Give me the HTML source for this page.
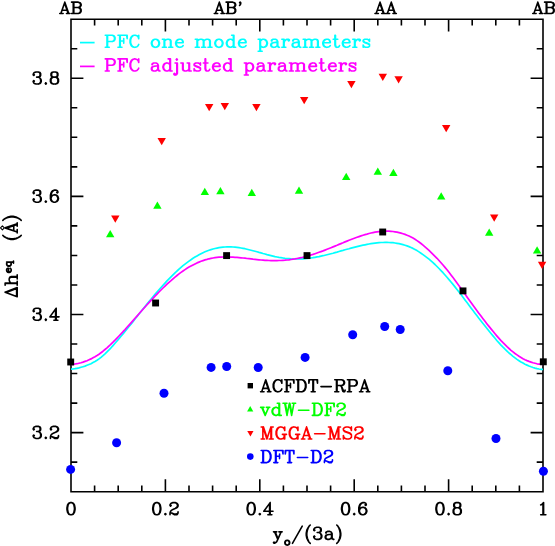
<!DOCTYPE html>
<html><head><meta charset="utf-8"><title>PFC stacking height</title>
<style>html,body{margin:0;padding:0;background:#fff;font-family:"Liberation Sans",sans-serif;}svg{display:block}</style>
</head><body>
<svg width="555" height="546" viewBox="0 0 555 546" role="img" aria-label="Equilibrium interlayer height versus stacking displacement">
<desc>Top axis: AB, AB prime, AA, AB. Legend: PFC one mode parameters; PFC adjusted parameters; ACFDT-RPA; vdW-DF2; MGGA-MS2; DFT-D2. Y axis: Delta h eq (Angstrom) 3.2 3.4 3.6 3.8. X axis: y_o/(3a) 0 0.2 0.4 0.6 0.8 1.</desc>
<path d="M71.00 19.20 H543.00 V491.70 H71.00 Z M71.00 491.70 v-12.40 M71.00 19.20 v12.40 M94.60 491.70 v-6.30 M94.60 19.20 v6.30 M118.20 491.70 v-6.30 M118.20 19.20 v6.30 M141.80 491.70 v-6.30 M141.80 19.20 v6.30 M165.40 491.70 v-12.40 M165.40 19.20 v12.40 M189.00 491.70 v-6.30 M189.00 19.20 v6.30 M212.60 491.70 v-6.30 M212.60 19.20 v6.30 M236.20 491.70 v-6.30 M236.20 19.20 v6.30 M259.80 491.70 v-12.40 M259.80 19.20 v12.40 M283.40 491.70 v-6.30 M283.40 19.20 v6.30 M307.00 491.70 v-6.30 M307.00 19.20 v6.30 M330.60 491.70 v-6.30 M330.60 19.20 v6.30 M354.20 491.70 v-12.40 M354.20 19.20 v12.40 M377.80 491.70 v-6.30 M377.80 19.20 v6.30 M401.40 491.70 v-6.30 M401.40 19.20 v6.30 M425.00 491.70 v-6.30 M425.00 19.20 v6.30 M448.60 491.70 v-12.40 M448.60 19.20 v12.40 M472.20 491.70 v-6.30 M472.20 19.20 v6.30 M495.80 491.70 v-6.30 M495.80 19.20 v6.30 M519.40 491.70 v-6.30 M519.40 19.20 v6.30 M543.00 491.70 v-12.40 M543.00 19.20 v12.40 M71.00 491.70 h6.30 M543.00 491.70 h-6.30 M71.00 462.17 h6.30 M543.00 462.17 h-6.30 M71.00 432.64 h12.40 M543.00 432.64 h-12.40 M71.00 403.11 h6.30 M543.00 403.11 h-6.30 M71.00 373.57 h6.30 M543.00 373.57 h-6.30 M71.00 344.04 h6.30 M543.00 344.04 h-6.30 M71.00 314.51 h12.40 M543.00 314.51 h-12.40 M71.00 284.98 h6.30 M543.00 284.98 h-6.30 M71.00 255.45 h6.30 M543.00 255.45 h-6.30 M71.00 225.92 h6.30 M543.00 225.92 h-6.30 M71.00 196.39 h12.40 M543.00 196.39 h-12.40 M71.00 166.86 h6.30 M543.00 166.86 h-6.30 M71.00 137.32 h6.30 M543.00 137.32 h-6.30 M71.00 107.79 h6.30 M543.00 107.79 h-6.30 M71.00 78.26 h12.40 M543.00 78.26 h-12.40 M71.00 48.73 h6.30 M543.00 48.73 h-6.30 M71.00 19.20 h6.30 M543.00 19.20 h-6.30" fill="none" stroke="#000" stroke-width="1.60" stroke-linecap="butt" stroke-linejoin="miter"/>
<polyline points="71.0,369.2 73.0,369.0 75.0,368.7 77.0,368.3 79.0,367.9 81.0,367.3 83.0,366.7 85.0,366.1 87.0,365.3 89.0,364.5 91.0,363.7 93.0,362.6 95.0,361.5 97.0,360.3 99.0,358.9 101.0,357.4 103.0,355.7 105.0,353.9 107.0,351.9 109.0,349.9 111.0,347.8 113.0,345.6 115.0,343.3 117.0,341.0 119.0,338.7 121.0,336.3 123.0,333.9 125.0,331.5 127.0,329.0 129.0,326.5 131.0,324.1 133.0,321.6 135.0,319.0 137.0,316.5 139.0,314.0 141.0,311.5 143.0,309.0 145.0,306.6 147.0,304.1 149.0,301.6 151.0,299.2 153.0,296.8 155.0,294.4 157.0,292.1 159.0,289.8 161.0,287.5 163.0,285.3 165.0,283.1 167.0,280.9 169.0,278.8 171.0,276.8 173.0,274.8 175.0,272.9 177.0,271.0 179.0,269.2 181.0,267.4 183.0,265.7 185.0,264.1 187.0,262.6 189.0,261.1 191.0,259.7 193.0,258.3 195.0,257.1 197.0,255.9 199.0,254.8 201.0,253.7 203.0,252.7 205.0,251.8 207.0,251.0 209.0,250.3 211.0,249.6 213.0,249.0 215.0,248.5 217.0,248.1 219.0,247.7 221.0,247.4 223.0,247.2 225.0,247.0 227.0,246.9 229.0,246.9 231.0,246.9 233.0,247.0 235.0,247.2 237.0,247.4 239.0,247.7 241.0,248.0 243.0,248.3 245.0,248.7 247.0,249.2 249.0,249.7 251.0,250.2 253.0,250.7 255.0,251.2 257.0,251.8 259.0,252.4 261.0,252.9 263.0,253.5 265.0,254.0 267.0,254.6 269.0,255.1 271.0,255.6 273.0,256.1 275.0,256.6 277.0,257.0 279.0,257.4 281.0,257.7 283.0,258.0 285.0,258.3 287.0,258.5 289.0,258.7 291.0,258.9 293.0,259.0 295.0,259.0 297.0,259.0 299.0,259.0 301.0,258.9 303.0,258.8 305.0,258.7 307.0,258.5 309.0,258.2 311.0,258.0 313.0,257.7 315.0,257.3 317.0,256.9 319.0,256.6 321.0,256.1 323.0,255.7 325.0,255.2 327.0,254.7 329.0,254.2 331.0,253.7 333.0,253.2 335.0,252.6 337.0,252.1 339.0,251.5 341.0,250.9 343.0,250.4 345.0,249.8 347.0,249.2 349.0,248.7 351.0,248.1 353.0,247.6 355.0,247.1 357.0,246.6 359.0,246.1 361.0,245.6 363.0,245.2 365.0,244.8 367.0,244.4 369.0,244.0 371.0,243.7 373.0,243.4 375.0,243.1 377.0,242.9 379.0,242.7 381.0,242.5 383.0,242.5 385.0,242.4 387.0,242.4 389.0,242.5 391.0,242.6 393.0,242.7 395.0,243.0 397.0,243.3 399.0,243.6 401.0,244.1 403.0,244.6 405.0,245.2 407.0,245.9 409.0,246.6 411.0,247.5 413.0,248.4 415.0,249.5 417.0,250.6 419.0,251.9 421.0,253.2 423.0,254.6 425.0,256.1 427.0,257.6 429.0,259.2 431.0,260.9 433.0,262.7 435.0,264.5 437.0,266.5 439.0,268.5 441.0,270.6 443.0,272.7 445.0,275.0 447.0,277.2 449.0,279.6 451.0,282.0 453.0,284.4 455.0,286.9 457.0,289.5 459.0,292.0 461.0,294.6 463.0,297.2 465.0,299.9 467.0,302.5 469.0,305.2 471.0,307.9 473.0,310.5 475.0,313.2 477.0,315.8 479.0,318.4 481.0,321.0 483.0,323.5 485.0,326.0 487.0,328.5 489.0,331.0 491.0,333.5 493.0,335.9 495.0,338.3 497.0,340.7 499.0,342.9 501.0,345.1 503.0,347.2 505.0,349.2 507.0,351.1 509.0,353.0 511.0,354.7 513.0,356.4 515.0,357.9 517.0,359.4 519.0,360.7 521.0,362.0 523.0,363.1 525.0,364.2 527.0,365.1 529.0,366.0 531.0,366.8 533.0,367.5 535.0,368.1 537.0,368.6 539.0,369.0 541.0,369.3 543.0,369.4" fill="none" stroke="#00ffff" stroke-width="1.7" stroke-linejoin="round"/>
<polyline points="71.0,364.4 73.0,364.3 75.0,364.0 77.0,363.7 79.0,363.2 81.0,362.7 83.0,362.1 85.0,361.4 87.0,360.7 89.0,359.8 91.0,358.9 93.0,357.8 95.0,356.7 97.0,355.5 99.0,354.2 101.0,352.7 103.0,351.2 105.0,349.5 107.0,347.8 109.0,346.0 111.0,344.1 113.0,342.2 115.0,340.2 117.0,338.1 119.0,336.0 121.0,333.9 123.0,331.7 125.0,329.6 127.0,327.3 129.0,325.1 131.0,322.9 133.0,320.6 135.0,318.3 137.0,316.1 139.0,313.8 141.0,311.5 143.0,309.3 145.0,307.0 147.0,304.8 149.0,302.6 151.0,300.4 153.0,298.3 155.0,296.2 157.0,294.1 159.0,292.0 161.0,290.0 163.0,288.0 165.0,286.1 167.0,284.2 169.0,282.3 171.0,280.6 173.0,278.8 175.0,277.1 177.0,275.5 179.0,273.9 181.0,272.4 183.0,271.0 185.0,269.6 187.0,268.3 189.0,267.1 191.0,266.0 193.0,264.9 195.0,263.9 197.0,262.9 199.0,262.1 201.0,261.3 203.0,260.6 205.0,259.9 207.0,259.4 209.0,258.8 211.0,258.4 213.0,258.0 215.0,257.7 217.0,257.4 219.0,257.2 221.0,257.1 223.0,257.0 225.0,257.0 227.0,256.9 229.0,257.0 231.0,257.1 233.0,257.2 235.0,257.3 237.0,257.4 239.0,257.6 241.0,257.8 243.0,258.0 245.0,258.2 247.0,258.5 249.0,258.7 251.0,258.9 253.0,259.2 255.0,259.4 257.0,259.6 259.0,259.8 261.0,260.0 263.0,260.1 265.0,260.3 267.0,260.4 269.0,260.5 271.0,260.6 273.0,260.6 275.0,260.6 277.0,260.6 279.0,260.5 281.0,260.5 283.0,260.3 285.0,260.2 287.0,260.0 289.0,259.8 291.0,259.5 293.0,259.2 295.0,258.9 297.0,258.5 299.0,258.1 301.0,257.7 303.0,257.2 305.0,256.7 307.0,256.2 309.0,255.6 311.0,255.0 313.0,254.4 315.0,253.7 317.0,253.0 319.0,252.3 321.0,251.6 323.0,250.9 325.0,250.1 327.0,249.3 329.0,248.5 331.0,247.7 333.0,246.9 335.0,246.1 337.0,245.3 339.0,244.4 341.0,243.6 343.0,242.8 345.0,241.9 347.0,241.1 349.0,240.3 351.0,239.5 353.0,238.7 355.0,238.0 357.0,237.3 359.0,236.6 361.0,235.9 363.0,235.2 365.0,234.6 367.0,234.1 369.0,233.5 371.0,233.0 373.0,232.6 375.0,232.2 377.0,231.9 379.0,231.6 381.0,231.4 383.0,231.2 385.0,231.1 387.0,231.1 389.0,231.2 391.0,231.3 393.0,231.5 395.0,231.8 397.0,232.1 399.0,232.6 401.0,233.1 403.0,233.7 405.0,234.4 407.0,235.2 409.0,236.0 411.0,237.0 413.0,238.1 415.0,239.3 417.0,240.6 419.0,242.0 421.0,243.5 423.0,245.2 425.0,246.9 427.0,248.6 429.0,250.4 431.0,252.3 433.0,254.3 435.0,256.3 437.0,258.3 439.0,260.5 441.0,262.7 443.0,265.0 445.0,267.4 447.0,269.8 449.0,272.3 451.0,274.9 453.0,277.5 455.0,280.2 457.0,282.9 459.0,285.7 461.0,288.5 463.0,291.3 465.0,294.1 467.0,296.9 469.0,299.7 471.0,302.5 473.0,305.2 475.0,308.0 477.0,310.7 479.0,313.4 481.0,316.1 483.0,318.7 485.0,321.3 487.0,323.9 489.0,326.4 491.0,328.9 493.0,331.3 495.0,333.7 497.0,336.1 499.0,338.4 501.0,340.6 503.0,342.7 505.0,344.7 507.0,346.7 509.0,348.5 511.0,350.3 513.0,351.9 515.0,353.5 517.0,354.9 519.0,356.3 521.0,357.5 523.0,358.7 525.0,359.7 527.0,360.6 529.0,361.4 531.0,362.1 533.0,362.8 535.0,363.3 537.0,363.8 539.0,364.1 541.0,364.2 543.0,364.3" fill="none" stroke="#ff00ff" stroke-width="1.7" stroke-linejoin="round"/>
<rect x="67.25" y="358.55" width="6.90" height="6.90" fill="#000"/>
<rect x="152.15" y="299.55" width="6.90" height="6.90" fill="#000"/>
<rect x="223.15" y="252.15" width="6.90" height="6.90" fill="#000"/>
<rect x="303.55" y="252.15" width="6.90" height="6.90" fill="#000"/>
<rect x="379.25" y="228.55" width="6.90" height="6.90" fill="#000"/>
<rect x="459.55" y="287.45" width="6.90" height="6.90" fill="#000"/>
<rect x="539.85" y="358.35" width="6.90" height="6.90" fill="#000"/>
<polygon points="110.20,230.05 114.40,237.33 106.00,237.33" fill="#00ff00"/>
<polygon points="157.40,201.55 161.60,208.83 153.20,208.83" fill="#00ff00"/>
<polygon points="204.80,187.85 209.00,195.12 200.60,195.12" fill="#00ff00"/>
<polygon points="220.40,186.95 224.60,194.23 216.20,194.23" fill="#00ff00"/>
<polygon points="251.80,188.85 256.00,196.12 247.60,196.12" fill="#00ff00"/>
<polygon points="299.00,186.55 303.20,193.83 294.80,193.83" fill="#00ff00"/>
<polygon points="346.20,172.75 350.40,180.03 342.00,180.03" fill="#00ff00"/>
<polygon points="377.80,167.55 382.00,174.83 373.60,174.83" fill="#00ff00"/>
<polygon points="393.40,168.75 397.60,176.03 389.20,176.03" fill="#00ff00"/>
<polygon points="441.20,192.35 445.40,199.62 437.00,199.62" fill="#00ff00"/>
<polygon points="489.20,228.55 493.40,235.83 485.00,235.83" fill="#00ff00"/>
<polygon points="537.10,246.35 541.30,253.62 532.90,253.62" fill="#00ff00"/>
<polygon points="115.30,222.75 119.50,215.47 111.10,215.47" fill="#ff0000"/>
<polygon points="161.70,145.15 165.90,137.88 157.50,137.88" fill="#ff0000"/>
<polygon points="209.20,111.15 213.40,103.88 205.00,103.88" fill="#ff0000"/>
<polygon points="224.80,110.25 229.00,102.98 220.60,102.98" fill="#ff0000"/>
<polygon points="256.40,111.15 260.60,103.88 252.20,103.88" fill="#ff0000"/>
<polygon points="304.20,104.35 308.40,97.08 300.00,97.08" fill="#ff0000"/>
<polygon points="351.40,88.15 355.60,80.88 347.20,80.88" fill="#ff0000"/>
<polygon points="382.80,80.95 387.00,73.67 378.60,73.67" fill="#ff0000"/>
<polygon points="398.60,83.55 402.80,76.28 394.40,76.28" fill="#ff0000"/>
<polygon points="446.20,132.15 450.40,124.88 442.00,124.88" fill="#ff0000"/>
<polygon points="494.20,221.65 498.40,214.38 490.00,214.38" fill="#ff0000"/>
<polygon points="542.10,269.05 546.30,261.77 537.90,261.77" fill="#ff0000"/>
<circle cx="70.60" cy="469.40" r="4.50" fill="#0000ff"/>
<circle cx="116.60" cy="442.80" r="4.50" fill="#0000ff"/>
<circle cx="164.00" cy="393.20" r="4.50" fill="#0000ff"/>
<circle cx="211.10" cy="367.40" r="4.50" fill="#0000ff"/>
<circle cx="226.70" cy="366.50" r="4.50" fill="#0000ff"/>
<circle cx="258.20" cy="367.50" r="4.50" fill="#0000ff"/>
<circle cx="305.10" cy="357.40" r="4.50" fill="#0000ff"/>
<circle cx="352.70" cy="334.70" r="4.50" fill="#0000ff"/>
<circle cx="384.70" cy="326.50" r="4.50" fill="#0000ff"/>
<circle cx="400.20" cy="329.50" r="4.50" fill="#0000ff"/>
<circle cx="447.80" cy="370.70" r="4.50" fill="#0000ff"/>
<circle cx="496.00" cy="438.50" r="4.50" fill="#0000ff"/>
<circle cx="543.40" cy="471.30" r="4.50" fill="#0000ff"/>
<path d="M64.82 2.16 L60.88 13.50 M64.82 2.16 L68.75 13.50 M64.82 3.78 L68.19 13.50 M62.01 10.26 L67.07 10.26 M59.76 13.50 L63.13 13.50 M66.50 13.50 L69.88 13.50 M73.25 2.16 L73.25 13.50 M73.81 2.16 L73.81 13.50 M71.56 2.16 L78.31 2.16 L79.99 2.70 L80.55 3.24 L81.12 4.32 L81.12 5.40 L80.55 6.48 L79.99 7.02 L78.31 7.56 M78.31 2.16 L79.43 2.70 L79.99 3.24 L80.55 4.32 L80.55 5.40 L79.99 6.48 L79.43 7.02 L78.31 7.56 M73.81 7.56 L78.31 7.56 L79.99 8.10 L80.55 8.64 L81.12 9.72 L81.12 11.34 L80.55 12.42 L79.99 12.96 L78.31 13.50 L71.56 13.50 M78.31 7.56 L79.43 8.10 L79.99 8.64 L80.55 9.72 L80.55 11.34 L79.99 12.42 L79.43 12.96 L78.31 13.50" fill="none" stroke="#000" stroke-width="1.60" stroke-linecap="round" stroke-linejoin="round"/>
<path d="M219.34 2.16 L215.41 13.50 M219.34 2.16 L223.28 13.50 M219.34 3.78 L222.71 13.50 M216.53 10.26 L221.59 10.26 M214.28 13.50 L217.66 13.50 M221.03 13.50 L224.40 13.50 M227.77 2.16 L227.77 13.50 M228.33 2.16 L228.33 13.50 M226.09 2.16 L232.83 2.16 L234.52 2.70 L235.08 3.24 L235.64 4.32 L235.64 5.40 L235.08 6.48 L234.52 7.02 L232.83 7.56 M232.83 2.16 L233.95 2.70 L234.52 3.24 L235.08 4.32 L235.08 5.40 L234.52 6.48 L233.95 7.02 L232.83 7.56 M228.33 7.56 L232.83 7.56 L234.52 8.10 L235.08 8.64 L235.64 9.72 L235.64 11.34 L235.08 12.42 L234.52 12.96 L232.83 13.50 L226.09 13.50 M232.83 7.56 L233.95 8.10 L234.52 8.64 L235.08 9.72 L235.08 11.34 L234.52 12.42 L233.95 12.96 L232.83 13.50 M240.14 3.24 L239.57 2.70 L240.14 2.16 L240.70 2.70 L240.70 3.78 L240.14 4.86 L239.57 5.40" fill="none" stroke="#000" stroke-width="1.60" stroke-linecap="round" stroke-linejoin="round"/>
<path d="M380.05 2.16 L376.11 13.50 M380.05 2.16 L383.98 13.50 M380.05 3.78 L383.42 13.50 M377.24 10.26 L382.29 10.26 M374.99 13.50 L378.36 13.50 M381.73 13.50 L385.10 13.50 M391.29 2.16 L387.35 13.50 M391.29 2.16 L395.22 13.50 M391.29 3.78 L394.66 13.50 M388.48 10.26 L393.53 10.26 M386.23 13.50 L389.60 13.50 M392.97 13.50 L396.34 13.50" fill="none" stroke="#000" stroke-width="1.60" stroke-linecap="round" stroke-linejoin="round"/>
<path d="M537.82 2.16 L533.88 13.50 M537.82 2.16 L541.75 13.50 M537.82 3.78 L541.19 13.50 M535.01 10.26 L540.07 10.26 M532.76 13.50 L536.13 13.50 M539.50 13.50 L542.88 13.50 M546.25 2.16 L546.25 13.50 M546.81 2.16 L546.81 13.50 M544.56 2.16 L551.31 2.16 L552.99 2.70 L553.55 3.24 L554.12 4.32 L554.12 5.40 L553.55 6.48 L552.99 7.02 L551.31 7.56 M551.31 2.16 L552.43 2.70 L552.99 3.24 L553.55 4.32 L553.55 5.40 L552.99 6.48 L552.43 7.02 L551.31 7.56 M546.81 7.56 L551.31 7.56 L552.99 8.10 L553.55 8.64 L554.12 9.72 L554.12 11.34 L553.55 12.42 L552.99 12.96 L551.31 13.50 L544.56 13.50 M551.31 7.56 L552.43 8.10 L552.99 8.64 L553.55 9.72 L553.55 11.34 L552.99 12.42 L552.43 12.96 L551.31 13.50" fill="none" stroke="#000" stroke-width="1.60" stroke-linecap="round" stroke-linejoin="round"/>
<path d="M80 42.6 H94.6" stroke="#00ffff" stroke-width="1.7" fill="none"/>
<path d="M80 66.4 H94.6" stroke="#ff00ff" stroke-width="1.7" fill="none"/>
<path d="M106.98 35.22 L106.98 47.30 M107.56 35.22 L107.56 47.30 M105.25 35.22 L112.18 35.22 L113.91 35.80 L114.49 36.38 L115.06 37.52 L115.06 39.25 L114.49 40.40 L113.91 40.97 L112.18 41.55 L107.56 41.55 M112.18 35.22 L113.33 35.80 L113.91 36.38 L114.49 37.52 L114.49 39.25 L113.91 40.40 L113.33 40.97 L112.18 41.55 M105.25 47.30 L109.29 47.30 M119.68 35.22 L119.68 47.30 M120.26 35.22 L120.26 47.30 M123.72 38.67 L123.72 43.27 M117.95 35.22 L127.18 35.22 L127.18 38.67 L126.60 35.22 M120.26 40.97 L123.72 40.97 M117.95 47.30 L121.99 47.30 M138.14 36.95 L138.72 38.67 L138.72 35.22 L138.14 36.95 L136.99 35.80 L135.26 35.22 L134.10 35.22 L132.37 35.80 L131.22 36.95 L130.64 38.10 L130.06 39.82 L130.06 42.70 L130.64 44.42 L131.22 45.57 L132.37 46.72 L134.10 47.30 L135.26 47.30 L136.99 46.72 L138.14 45.57 L138.72 44.42 M134.10 35.22 L132.95 35.80 L131.80 36.95 L131.22 38.10 L130.64 39.82 L130.64 42.70 L131.22 44.42 L131.80 45.57 L132.95 46.72 L134.10 47.30 M154.88 39.25 L153.14 39.82 L151.99 40.97 L151.41 42.70 L151.41 43.85 L151.99 45.57 L153.14 46.72 L154.88 47.30 L156.03 47.30 L157.76 46.72 L158.91 45.57 L159.49 43.85 L159.49 42.70 L158.91 40.97 L157.76 39.82 L156.03 39.25 L154.88 39.25 M154.88 39.25 L153.72 39.82 L152.57 40.97 L151.99 42.70 L151.99 43.85 L152.57 45.57 L153.72 46.72 L154.88 47.30 M156.03 47.30 L157.18 46.72 L158.34 45.57 L158.91 43.85 L158.91 42.70 L158.34 40.97 L157.18 39.82 L156.03 39.25 M164.11 39.25 L164.11 47.30 M164.69 39.25 L164.69 47.30 M164.69 40.97 L165.84 39.82 L167.57 39.25 L168.72 39.25 L170.45 39.82 L171.03 40.97 L171.03 47.30 M168.72 39.25 L169.88 39.82 L170.45 40.97 L170.45 47.30 M162.38 39.25 L164.69 39.25 M162.38 47.30 L166.42 47.30 M168.72 47.30 L172.76 47.30 M176.22 42.70 L183.15 42.70 L183.15 41.55 L182.57 40.40 L182.00 39.82 L180.84 39.25 L179.11 39.25 L177.38 39.82 L176.22 40.97 L175.65 42.70 L175.65 43.85 L176.22 45.57 L177.38 46.72 L179.11 47.30 L180.26 47.30 L182.00 46.72 L183.15 45.57 M182.57 42.70 L182.57 40.97 L182.00 39.82 M179.11 39.25 L177.96 39.82 L176.80 40.97 L176.22 42.70 L176.22 43.85 L176.80 45.57 L177.96 46.72 L179.11 47.30 M197.00 39.25 L197.00 47.30 M197.57 39.25 L197.57 47.30 M197.57 40.97 L198.73 39.82 L200.46 39.25 L201.61 39.25 L203.34 39.82 L203.92 40.97 L203.92 47.30 M201.61 39.25 L202.77 39.82 L203.34 40.97 L203.34 47.30 M203.92 40.97 L205.07 39.82 L206.81 39.25 L207.96 39.25 L209.69 39.82 L210.27 40.97 L210.27 47.30 M207.96 39.25 L209.11 39.82 L209.69 40.97 L209.69 47.30 M195.27 39.25 L197.57 39.25 M195.27 47.30 L199.31 47.30 M201.61 47.30 L205.65 47.30 M207.96 47.30 L212.00 47.30 M218.35 39.25 L216.61 39.82 L215.46 40.97 L214.88 42.70 L214.88 43.85 L215.46 45.57 L216.61 46.72 L218.35 47.30 L219.50 47.30 L221.23 46.72 L222.38 45.57 L222.96 43.85 L222.96 42.70 L222.38 40.97 L221.23 39.82 L219.50 39.25 L218.35 39.25 M218.35 39.25 L217.19 39.82 L216.04 40.97 L215.46 42.70 L215.46 43.85 L216.04 45.57 L217.19 46.72 L218.35 47.30 M219.50 47.30 L220.65 46.72 L221.81 45.57 L222.38 43.85 L222.38 42.70 L221.81 40.97 L220.65 39.82 L219.50 39.25 M233.35 35.22 L233.35 47.30 M233.92 35.22 L233.92 47.30 M233.35 40.97 L232.19 39.82 L231.04 39.25 L229.89 39.25 L228.15 39.82 L227.00 40.97 L226.42 42.70 L226.42 43.85 L227.00 45.57 L228.15 46.72 L229.89 47.30 L231.04 47.30 L232.19 46.72 L233.35 45.57 M229.89 39.25 L228.73 39.82 L227.58 40.97 L227.00 42.70 L227.00 43.85 L227.58 45.57 L228.73 46.72 L229.89 47.30 M231.62 35.22 L233.92 35.22 M233.35 47.30 L235.66 47.30 M239.12 42.70 L246.04 42.70 L246.04 41.55 L245.46 40.40 L244.89 39.82 L243.73 39.25 L242.00 39.25 L240.27 39.82 L239.12 40.97 L238.54 42.70 L238.54 43.85 L239.12 45.57 L240.27 46.72 L242.00 47.30 L243.16 47.30 L244.89 46.72 L246.04 45.57 M245.46 42.70 L245.46 40.97 L244.89 39.82 M242.00 39.25 L240.85 39.82 L239.69 40.97 L239.12 42.70 L239.12 43.85 L239.69 45.57 L240.85 46.72 L242.00 47.30 M259.89 39.25 L259.89 51.32 M260.47 39.25 L260.47 51.32 M260.47 40.97 L261.62 39.82 L262.77 39.25 L263.93 39.25 L265.66 39.82 L266.81 40.97 L267.39 42.70 L267.39 43.85 L266.81 45.57 L265.66 46.72 L263.93 47.30 L262.77 47.30 L261.62 46.72 L260.47 45.57 M263.93 39.25 L265.08 39.82 L266.24 40.97 L266.81 42.70 L266.81 43.85 L266.24 45.57 L265.08 46.72 L263.93 47.30 M258.16 39.25 L260.47 39.25 M258.16 51.32 L262.20 51.32 M272.01 40.40 L272.01 40.97 L271.43 40.97 L271.43 40.40 L272.01 39.82 L273.16 39.25 L275.47 39.25 L276.62 39.82 L277.20 40.40 L277.78 41.55 L277.78 45.57 L278.35 46.72 L278.93 47.30 M277.20 40.40 L277.20 45.57 L277.78 46.72 L278.93 47.30 L279.51 47.30 M277.20 41.55 L276.62 42.12 L273.16 42.70 L271.43 43.27 L270.85 44.42 L270.85 45.57 L271.43 46.72 L273.16 47.30 L274.89 47.30 L276.05 46.72 L277.20 45.57 M273.16 42.70 L272.01 43.27 L271.43 44.42 L271.43 45.57 L272.01 46.72 L273.16 47.30 M283.55 39.25 L283.55 47.30 M284.12 39.25 L284.12 47.30 M284.12 42.70 L284.70 40.97 L285.86 39.82 L287.01 39.25 L288.74 39.25 L289.32 39.82 L289.32 40.40 L288.74 40.97 L288.16 40.40 L288.74 39.82 M281.82 39.25 L284.12 39.25 M281.82 47.30 L285.86 47.30 M293.36 40.40 L293.36 40.97 L292.78 40.97 L292.78 40.40 L293.36 39.82 L294.51 39.25 L296.82 39.25 L297.97 39.82 L298.55 40.40 L299.13 41.55 L299.13 45.57 L299.70 46.72 L300.28 47.30 M298.55 40.40 L298.55 45.57 L299.13 46.72 L300.28 47.30 L300.86 47.30 M298.55 41.55 L297.97 42.12 L294.51 42.70 L292.78 43.27 L292.20 44.42 L292.20 45.57 L292.78 46.72 L294.51 47.30 L296.24 47.30 L297.39 46.72 L298.55 45.57 M294.51 42.70 L293.36 43.27 L292.78 44.42 L292.78 45.57 L293.36 46.72 L294.51 47.30 M304.90 39.25 L304.90 47.30 M305.47 39.25 L305.47 47.30 M305.47 40.97 L306.63 39.82 L308.36 39.25 L309.51 39.25 L311.24 39.82 L311.82 40.97 L311.82 47.30 M309.51 39.25 L310.67 39.82 L311.24 40.97 L311.24 47.30 M311.82 40.97 L312.97 39.82 L314.70 39.25 L315.86 39.25 L317.59 39.82 L318.17 40.97 L318.17 47.30 M315.86 39.25 L317.01 39.82 L317.59 40.97 L317.59 47.30 M303.16 39.25 L305.47 39.25 M303.16 47.30 L307.20 47.30 M309.51 47.30 L313.55 47.30 M315.86 47.30 L319.90 47.30 M323.36 42.70 L330.28 42.70 L330.28 41.55 L329.71 40.40 L329.13 39.82 L327.98 39.25 L326.25 39.25 L324.51 39.82 L323.36 40.97 L322.78 42.70 L322.78 43.85 L323.36 45.57 L324.51 46.72 L326.25 47.30 L327.40 47.30 L329.13 46.72 L330.28 45.57 M329.71 42.70 L329.71 40.97 L329.13 39.82 M326.25 39.25 L325.09 39.82 L323.94 40.97 L323.36 42.70 L323.36 43.85 L323.94 45.57 L325.09 46.72 L326.25 47.30 M334.90 35.22 L334.90 45.00 L335.48 46.72 L336.63 47.30 L337.78 47.30 L338.94 46.72 L339.52 45.57 M335.48 35.22 L335.48 45.00 L336.05 46.72 L336.63 47.30 M333.17 39.25 L337.78 39.25 M342.98 42.70 L349.90 42.70 L349.90 41.55 L349.32 40.40 L348.75 39.82 L347.59 39.25 L345.86 39.25 L344.13 39.82 L342.98 40.97 L342.40 42.70 L342.40 43.85 L342.98 45.57 L344.13 46.72 L345.86 47.30 L347.02 47.30 L348.75 46.72 L349.90 45.57 M349.32 42.70 L349.32 40.97 L348.75 39.82 M345.86 39.25 L344.71 39.82 L343.55 40.97 L342.98 42.70 L342.98 43.85 L343.55 45.57 L344.71 46.72 L345.86 47.30 M354.52 39.25 L354.52 47.30 M355.09 39.25 L355.09 47.30 M355.09 42.70 L355.67 40.97 L356.83 39.82 L357.98 39.25 L359.71 39.25 L360.29 39.82 L360.29 40.40 L359.71 40.97 L359.13 40.40 L359.71 39.82 M352.79 39.25 L355.09 39.25 M352.79 47.30 L356.83 47.30 M368.94 40.40 L369.52 39.25 L369.52 41.55 L368.94 40.40 L368.37 39.82 L367.21 39.25 L364.90 39.25 L363.75 39.82 L363.17 40.40 L363.17 41.55 L363.75 42.12 L364.90 42.70 L367.79 43.85 L368.94 44.42 L369.52 45.00 M363.17 40.97 L363.75 41.55 L364.90 42.12 L367.79 43.27 L368.94 43.85 L369.52 44.42 L369.52 46.15 L368.94 46.72 L367.79 47.30 L365.48 47.30 L364.33 46.72 L363.75 46.15 L363.17 45.00 L363.17 47.30 L363.75 46.15" fill="none" stroke="#00ffff" stroke-width="1.60" stroke-linecap="round" stroke-linejoin="round"/>
<path d="M106.98 58.92 L106.98 71.00 M107.56 58.92 L107.56 71.00 M105.25 58.92 L112.18 58.92 L113.91 59.50 L114.49 60.08 L115.06 61.23 L115.06 62.95 L114.49 64.10 L113.91 64.67 L112.18 65.25 L107.56 65.25 M112.18 58.92 L113.33 59.50 L113.91 60.08 L114.49 61.23 L114.49 62.95 L113.91 64.10 L113.33 64.67 L112.18 65.25 M105.25 71.00 L109.29 71.00 M119.68 58.92 L119.68 71.00 M120.26 58.92 L120.26 71.00 M123.72 62.38 L123.72 66.97 M117.95 58.92 L127.18 58.92 L127.18 62.38 L126.60 58.92 M120.26 64.67 L123.72 64.67 M117.95 71.00 L121.99 71.00 M138.14 60.65 L138.72 62.38 L138.72 58.92 L138.14 60.65 L136.99 59.50 L135.26 58.92 L134.10 58.92 L132.37 59.50 L131.22 60.65 L130.64 61.80 L130.06 63.52 L130.06 66.40 L130.64 68.12 L131.22 69.28 L132.37 70.42 L134.10 71.00 L135.26 71.00 L136.99 70.42 L138.14 69.28 L138.72 68.12 M134.10 58.92 L132.95 59.50 L131.80 60.65 L131.22 61.80 L130.64 63.52 L130.64 66.40 L131.22 68.12 L131.80 69.28 L132.95 70.42 L134.10 71.00 M152.57 64.10 L152.57 64.67 L151.99 64.67 L151.99 64.10 L152.57 63.52 L153.72 62.95 L156.03 62.95 L157.18 63.52 L157.76 64.10 L158.34 65.25 L158.34 69.28 L158.91 70.42 L159.49 71.00 M157.76 64.10 L157.76 69.28 L158.34 70.42 L159.49 71.00 L160.07 71.00 M157.76 65.25 L157.18 65.83 L153.72 66.40 L151.99 66.97 L151.41 68.12 L151.41 69.28 L151.99 70.42 L153.72 71.00 L155.45 71.00 L156.61 70.42 L157.76 69.28 M153.72 66.40 L152.57 66.97 L151.99 68.12 L151.99 69.28 L152.57 70.42 L153.72 71.00 M169.88 58.92 L169.88 71.00 M170.45 58.92 L170.45 71.00 M169.88 64.67 L168.72 63.52 L167.57 62.95 L166.42 62.95 L164.69 63.52 L163.53 64.67 L162.95 66.40 L162.95 67.55 L163.53 69.28 L164.69 70.42 L166.42 71.00 L167.57 71.00 L168.72 70.42 L169.88 69.28 M166.42 62.95 L165.26 63.52 L164.11 64.67 L163.53 66.40 L163.53 67.55 L164.11 69.28 L165.26 70.42 L166.42 71.00 M168.15 58.92 L170.45 58.92 M169.88 71.00 L172.19 71.00 M176.80 58.92 L176.22 59.50 L176.80 60.08 L177.38 59.50 L176.80 58.92 M177.38 62.95 L177.38 73.30 L176.80 74.45 L175.65 75.03 L174.49 75.03 L173.92 74.45 L173.92 73.88 L174.49 73.30 L175.07 73.88 L174.49 74.45 M176.80 62.95 L176.80 73.30 L176.22 74.45 L175.65 75.03 M175.07 62.95 L177.38 62.95 M182.57 62.95 L182.57 69.28 L183.15 70.42 L184.88 71.00 L186.03 71.00 L187.76 70.42 L188.92 69.28 M183.15 62.95 L183.15 69.28 L183.73 70.42 L184.88 71.00 M188.92 62.95 L188.92 71.00 M189.50 62.95 L189.50 71.00 M180.84 62.95 L183.15 62.95 M187.19 62.95 L189.50 62.95 M188.92 71.00 L191.23 71.00 M199.88 64.10 L200.46 62.95 L200.46 65.25 L199.88 64.10 L199.31 63.52 L198.15 62.95 L195.84 62.95 L194.69 63.52 L194.11 64.10 L194.11 65.25 L194.69 65.83 L195.84 66.40 L198.73 67.55 L199.88 68.12 L200.46 68.70 M194.11 64.67 L194.69 65.25 L195.84 65.83 L198.73 66.97 L199.88 67.55 L200.46 68.12 L200.46 69.85 L199.88 70.42 L198.73 71.00 L196.42 71.00 L195.27 70.42 L194.69 69.85 L194.11 68.70 L194.11 71.00 L194.69 69.85 M205.07 58.92 L205.07 68.70 L205.65 70.42 L206.81 71.00 L207.96 71.00 L209.11 70.42 L209.69 69.28 M205.65 58.92 L205.65 68.70 L206.23 70.42 L206.81 71.00 M203.34 62.95 L207.96 62.95 M213.15 66.40 L220.08 66.40 L220.08 65.25 L219.50 64.10 L218.92 63.52 L217.77 62.95 L216.04 62.95 L214.31 63.52 L213.15 64.67 L212.58 66.40 L212.58 67.55 L213.15 69.28 L214.31 70.42 L216.04 71.00 L217.19 71.00 L218.92 70.42 L220.08 69.28 M219.50 66.40 L219.50 64.67 L218.92 63.52 M216.04 62.95 L214.88 63.52 L213.73 64.67 L213.15 66.40 L213.15 67.55 L213.73 69.28 L214.88 70.42 L216.04 71.00 M230.46 58.92 L230.46 71.00 M231.04 58.92 L231.04 71.00 M230.46 64.67 L229.31 63.52 L228.15 62.95 L227.00 62.95 L225.27 63.52 L224.12 64.67 L223.54 66.40 L223.54 67.55 L224.12 69.28 L225.27 70.42 L227.00 71.00 L228.15 71.00 L229.31 70.42 L230.46 69.28 M227.00 62.95 L225.85 63.52 L224.69 64.67 L224.12 66.40 L224.12 67.55 L224.69 69.28 L225.85 70.42 L227.00 71.00 M228.73 58.92 L231.04 58.92 M230.46 71.00 L232.77 71.00 M246.04 62.95 L246.04 75.03 M246.62 62.95 L246.62 75.03 M246.62 64.67 L247.77 63.52 L248.93 62.95 L250.08 62.95 L251.81 63.52 L252.97 64.67 L253.54 66.40 L253.54 67.55 L252.97 69.28 L251.81 70.42 L250.08 71.00 L248.93 71.00 L247.77 70.42 L246.62 69.28 M250.08 62.95 L251.23 63.52 L252.39 64.67 L252.97 66.40 L252.97 67.55 L252.39 69.28 L251.23 70.42 L250.08 71.00 M244.31 62.95 L246.62 62.95 M244.31 75.03 L248.35 75.03 M258.16 64.10 L258.16 64.67 L257.58 64.67 L257.58 64.10 L258.16 63.52 L259.31 62.95 L261.62 62.95 L262.77 63.52 L263.35 64.10 L263.93 65.25 L263.93 69.28 L264.51 70.42 L265.08 71.00 M263.35 64.10 L263.35 69.28 L263.93 70.42 L265.08 71.00 L265.66 71.00 M263.35 65.25 L262.77 65.83 L259.31 66.40 L257.58 66.97 L257.00 68.12 L257.00 69.28 L257.58 70.42 L259.31 71.00 L261.04 71.00 L262.20 70.42 L263.35 69.28 M259.31 66.40 L258.16 66.97 L257.58 68.12 L257.58 69.28 L258.16 70.42 L259.31 71.00 M269.70 62.95 L269.70 71.00 M270.28 62.95 L270.28 71.00 M270.28 66.40 L270.85 64.67 L272.01 63.52 L273.16 62.95 L274.89 62.95 L275.47 63.52 L275.47 64.10 L274.89 64.67 L274.31 64.10 L274.89 63.52 M267.97 62.95 L270.28 62.95 M267.97 71.00 L272.01 71.00 M279.51 64.10 L279.51 64.67 L278.93 64.67 L278.93 64.10 L279.51 63.52 L280.66 62.95 L282.97 62.95 L284.12 63.52 L284.70 64.10 L285.28 65.25 L285.28 69.28 L285.86 70.42 L286.43 71.00 M284.70 64.10 L284.70 69.28 L285.28 70.42 L286.43 71.00 L287.01 71.00 M284.70 65.25 L284.12 65.83 L280.66 66.40 L278.93 66.97 L278.35 68.12 L278.35 69.28 L278.93 70.42 L280.66 71.00 L282.39 71.00 L283.55 70.42 L284.70 69.28 M280.66 66.40 L279.51 66.97 L278.93 68.12 L278.93 69.28 L279.51 70.42 L280.66 71.00 M291.05 62.95 L291.05 71.00 M291.62 62.95 L291.62 71.00 M291.62 64.67 L292.78 63.52 L294.51 62.95 L295.66 62.95 L297.39 63.52 L297.97 64.67 L297.97 71.00 M295.66 62.95 L296.82 63.52 L297.39 64.67 L297.39 71.00 M297.97 64.67 L299.13 63.52 L300.86 62.95 L302.01 62.95 L303.74 63.52 L304.32 64.67 L304.32 71.00 M302.01 62.95 L303.16 63.52 L303.74 64.67 L303.74 71.00 M289.32 62.95 L291.62 62.95 M289.32 71.00 L293.36 71.00 M295.66 71.00 L299.70 71.00 M302.01 71.00 L306.05 71.00 M309.51 66.40 L316.44 66.40 L316.44 65.25 L315.86 64.10 L315.28 63.52 L314.13 62.95 L312.40 62.95 L310.67 63.52 L309.51 64.67 L308.93 66.40 L308.93 67.55 L309.51 69.28 L310.67 70.42 L312.40 71.00 L313.55 71.00 L315.28 70.42 L316.44 69.28 M315.86 66.40 L315.86 64.67 L315.28 63.52 M312.40 62.95 L311.24 63.52 L310.09 64.67 L309.51 66.40 L309.51 67.55 L310.09 69.28 L311.24 70.42 L312.40 71.00 M321.05 58.92 L321.05 68.70 L321.63 70.42 L322.78 71.00 L323.94 71.00 L325.09 70.42 L325.67 69.28 M321.63 58.92 L321.63 68.70 L322.21 70.42 L322.78 71.00 M319.32 62.95 L323.94 62.95 M329.13 66.40 L336.05 66.40 L336.05 65.25 L335.48 64.10 L334.90 63.52 L333.75 62.95 L332.01 62.95 L330.28 63.52 L329.13 64.67 L328.55 66.40 L328.55 67.55 L329.13 69.28 L330.28 70.42 L332.01 71.00 L333.17 71.00 L334.90 70.42 L336.05 69.28 M335.48 66.40 L335.48 64.67 L334.90 63.52 M332.01 62.95 L330.86 63.52 L329.71 64.67 L329.13 66.40 L329.13 67.55 L329.71 69.28 L330.86 70.42 L332.01 71.00 M340.67 62.95 L340.67 71.00 M341.25 62.95 L341.25 71.00 M341.25 66.40 L341.82 64.67 L342.98 63.52 L344.13 62.95 L345.86 62.95 L346.44 63.52 L346.44 64.10 L345.86 64.67 L345.29 64.10 L345.86 63.52 M338.94 62.95 L341.25 62.95 M338.94 71.00 L342.98 71.00 M355.09 64.10 L355.67 62.95 L355.67 65.25 L355.09 64.10 L354.52 63.52 L353.36 62.95 L351.06 62.95 L349.90 63.52 L349.32 64.10 L349.32 65.25 L349.90 65.83 L351.06 66.40 L353.94 67.55 L355.09 68.12 L355.67 68.70 M349.32 64.67 L349.90 65.25 L351.06 65.83 L353.94 66.97 L355.09 67.55 L355.67 68.12 L355.67 69.85 L355.09 70.42 L353.94 71.00 L351.63 71.00 L350.48 70.42 L349.90 69.85 L349.32 68.70 L349.32 71.00 L349.90 69.85" fill="none" stroke="#ff00ff" stroke-width="1.60" stroke-linecap="round" stroke-linejoin="round"/>
<path d="M33.75 428.66 L34.33 429.24 L33.75 429.81 L33.18 429.24 L33.18 428.66 L33.75 427.51 L34.33 426.94 L36.05 426.36 L38.35 426.36 L40.08 426.94 L40.65 428.09 L40.65 429.81 L40.08 430.96 L38.35 431.54 L36.63 431.54 M38.35 426.36 L39.50 426.94 L40.08 428.09 L40.08 429.81 L39.50 430.96 L38.35 431.54 M38.35 431.54 L39.50 432.11 L40.65 433.26 L41.23 434.41 L41.23 436.14 L40.65 437.29 L40.08 437.86 L38.35 438.44 L36.05 438.44 L34.33 437.86 L33.75 437.29 L33.18 436.14 L33.18 435.56 L33.75 434.99 L34.33 435.56 L33.75 436.14 M40.08 432.69 L40.65 434.41 L40.65 436.14 L40.08 437.29 L39.50 437.86 L38.35 438.44 M45.83 437.29 L45.25 437.86 L45.83 438.44 L46.40 437.86 L45.83 437.29 M51.00 428.66 L51.58 429.24 L51.00 429.81 L50.43 429.24 L50.43 428.66 L51.00 427.51 L51.58 426.94 L53.30 426.36 L55.60 426.36 L57.33 426.94 L57.90 427.51 L58.48 428.66 L58.48 429.81 L57.90 430.96 L56.18 432.11 L53.30 433.26 L52.15 433.84 L51.00 434.99 L50.43 436.71 L50.43 438.44 M55.60 426.36 L56.75 426.94 L57.33 427.51 L57.90 428.66 L57.90 429.81 L57.33 430.96 L55.60 432.11 L53.30 433.26 M50.43 437.29 L51.00 436.71 L52.15 436.71 L55.03 437.86 L56.75 437.86 L57.90 437.29 L58.48 436.71 M52.15 436.71 L55.03 438.44 L57.33 438.44 L57.90 437.86 L58.48 436.71 L58.48 435.56" fill="none" stroke="#000" stroke-width="1.60" stroke-linecap="round" stroke-linejoin="round"/>
<path d="M33.75 310.54 L34.33 311.11 L33.75 311.69 L33.18 311.11 L33.18 310.54 L33.75 309.39 L34.33 308.81 L36.05 308.24 L38.35 308.24 L40.08 308.81 L40.65 309.96 L40.65 311.69 L40.08 312.84 L38.35 313.41 L36.63 313.41 M38.35 308.24 L39.50 308.81 L40.08 309.96 L40.08 311.69 L39.50 312.84 L38.35 313.41 M38.35 313.41 L39.50 313.99 L40.65 315.14 L41.23 316.29 L41.23 318.01 L40.65 319.16 L40.08 319.74 L38.35 320.31 L36.05 320.31 L34.33 319.74 L33.75 319.16 L33.18 318.01 L33.18 317.44 L33.75 316.86 L34.33 317.44 L33.75 318.01 M40.08 314.56 L40.65 316.29 L40.65 318.01 L40.08 319.16 L39.50 319.74 L38.35 320.31 M45.83 319.16 L45.25 319.74 L45.83 320.31 L46.40 319.74 L45.83 319.16 M55.60 309.39 L55.60 320.31 M56.18 308.24 L56.18 320.31 M56.18 308.24 L49.85 316.86 L59.05 316.86 M53.88 320.31 L57.90 320.31" fill="none" stroke="#000" stroke-width="1.60" stroke-linecap="round" stroke-linejoin="round"/>
<path d="M33.75 192.41 L34.33 192.99 L33.75 193.56 L33.18 192.99 L33.18 192.41 L33.75 191.26 L34.33 190.69 L36.05 190.11 L38.35 190.11 L40.08 190.69 L40.65 191.84 L40.65 193.56 L40.08 194.71 L38.35 195.29 L36.63 195.29 M38.35 190.11 L39.50 190.69 L40.08 191.84 L40.08 193.56 L39.50 194.71 L38.35 195.29 M38.35 195.29 L39.50 195.86 L40.65 197.01 L41.23 198.16 L41.23 199.89 L40.65 201.04 L40.08 201.61 L38.35 202.19 L36.05 202.19 L34.33 201.61 L33.75 201.04 L33.18 199.89 L33.18 199.31 L33.75 198.74 L34.33 199.31 L33.75 199.89 M40.08 196.44 L40.65 198.16 L40.65 199.89 L40.08 201.04 L39.50 201.61 L38.35 202.19 M45.83 201.04 L45.25 201.61 L45.83 202.19 L46.40 201.61 L45.83 201.04 M57.33 191.84 L56.75 192.41 L57.33 192.99 L57.90 192.41 L57.90 191.84 L57.33 190.69 L56.18 190.11 L54.45 190.11 L52.73 190.69 L51.58 191.84 L51.00 192.99 L50.43 195.29 L50.43 198.74 L51.00 200.46 L52.15 201.61 L53.88 202.19 L55.03 202.19 L56.75 201.61 L57.90 200.46 L58.48 198.74 L58.48 198.16 L57.90 196.44 L56.75 195.29 L55.03 194.71 L54.45 194.71 L52.73 195.29 L51.58 196.44 L51.00 198.16 M54.45 190.11 L53.30 190.69 L52.15 191.84 L51.58 192.99 L51.00 195.29 L51.00 198.74 L51.58 200.46 L52.73 201.61 L53.88 202.19 M55.03 202.19 L56.18 201.61 L57.33 200.46 L57.90 198.74 L57.90 198.16 L57.33 196.44 L56.18 195.29 L55.03 194.71" fill="none" stroke="#000" stroke-width="1.60" stroke-linecap="round" stroke-linejoin="round"/>
<path d="M33.75 74.29 L34.33 74.86 L33.75 75.44 L33.18 74.86 L33.18 74.29 L33.75 73.14 L34.33 72.56 L36.05 71.99 L38.35 71.99 L40.08 72.56 L40.65 73.71 L40.65 75.44 L40.08 76.59 L38.35 77.16 L36.63 77.16 M38.35 71.99 L39.50 72.56 L40.08 73.71 L40.08 75.44 L39.50 76.59 L38.35 77.16 M38.35 77.16 L39.50 77.74 L40.65 78.89 L41.23 80.04 L41.23 81.76 L40.65 82.91 L40.08 83.49 L38.35 84.06 L36.05 84.06 L34.33 83.49 L33.75 82.91 L33.18 81.76 L33.18 81.19 L33.75 80.61 L34.33 81.19 L33.75 81.76 M40.08 78.31 L40.65 80.04 L40.65 81.76 L40.08 82.91 L39.50 83.49 L38.35 84.06 M45.83 82.91 L45.25 83.49 L45.83 84.06 L46.40 83.49 L45.83 82.91 M53.30 71.99 L51.58 72.56 L51.00 73.71 L51.00 75.44 L51.58 76.59 L53.30 77.16 L55.60 77.16 L57.33 76.59 L57.90 75.44 L57.90 73.71 L57.33 72.56 L55.60 71.99 L53.30 71.99 M53.30 71.99 L52.15 72.56 L51.58 73.71 L51.58 75.44 L52.15 76.59 L53.30 77.16 M55.60 77.16 L56.75 76.59 L57.33 75.44 L57.33 73.71 L56.75 72.56 L55.60 71.99 M53.30 77.16 L51.58 77.74 L51.00 78.31 L50.43 79.46 L50.43 81.76 L51.00 82.91 L51.58 83.49 L53.30 84.06 L55.60 84.06 L57.33 83.49 L57.90 82.91 L58.48 81.76 L58.48 79.46 L57.90 78.31 L57.33 77.74 L55.60 77.16 M53.30 77.16 L52.15 77.74 L51.58 78.31 L51.00 79.46 L51.00 81.76 L51.58 82.91 L52.15 83.49 L53.30 84.06 M55.60 84.06 L56.75 83.49 L57.33 82.91 L57.90 81.76 L57.90 79.46 L57.33 78.31 L56.75 77.74 L55.60 77.16" fill="none" stroke="#000" stroke-width="1.60" stroke-linecap="round" stroke-linejoin="round"/>
<path d="M70.42 502.63 L68.70 503.20 L67.55 504.93 L66.97 507.80 L66.97 509.53 L67.55 512.40 L68.70 514.12 L70.42 514.70 L71.58 514.70 L73.30 514.12 L74.45 512.40 L75.03 509.53 L75.03 507.80 L74.45 504.93 L73.30 503.20 L71.58 502.63 L70.42 502.63 M70.42 502.63 L69.28 503.20 L68.70 503.78 L68.12 504.93 L67.55 507.80 L67.55 509.53 L68.12 512.40 L68.70 513.55 L69.28 514.12 L70.42 514.70 M71.58 514.70 L72.72 514.12 L73.30 513.55 L73.88 512.40 L74.45 509.53 L74.45 507.80 L73.88 504.93 L73.30 503.78 L72.72 503.20 L71.58 502.63" fill="none" stroke="#000" stroke-width="1.60" stroke-linecap="round" stroke-linejoin="round"/>
<path d="M156.20 502.63 L154.47 503.20 L153.33 504.93 L152.75 507.80 L152.75 509.53 L153.33 512.40 L154.47 514.12 L156.20 514.70 L157.35 514.70 L159.08 514.12 L160.22 512.40 L160.80 509.53 L160.80 507.80 L160.22 504.93 L159.08 503.20 L157.35 502.63 L156.20 502.63 M156.20 502.63 L155.05 503.20 L154.47 503.78 L153.90 504.93 L153.33 507.80 L153.33 509.53 L153.90 512.40 L154.47 513.55 L155.05 514.12 L156.20 514.70 M157.35 514.70 L158.50 514.12 L159.08 513.55 L159.65 512.40 L160.22 509.53 L160.22 507.80 L159.65 504.93 L159.08 503.78 L158.50 503.20 L157.35 502.63 M165.40 513.55 L164.83 514.12 L165.40 514.70 L165.97 514.12 L165.40 513.55 M170.57 504.93 L171.15 505.50 L170.57 506.08 L170.00 505.50 L170.00 504.93 L170.57 503.78 L171.15 503.20 L172.88 502.63 L175.18 502.63 L176.90 503.20 L177.47 503.78 L178.05 504.93 L178.05 506.08 L177.47 507.23 L175.75 508.38 L172.88 509.53 L171.72 510.10 L170.57 511.25 L170.00 512.98 L170.00 514.70 M175.18 502.63 L176.32 503.20 L176.90 503.78 L177.47 504.93 L177.47 506.08 L176.90 507.23 L175.18 508.38 L172.88 509.53 M170.00 513.55 L170.57 512.98 L171.72 512.98 L174.60 514.12 L176.32 514.12 L177.47 513.55 L178.05 512.98 M171.72 512.98 L174.60 514.70 L176.90 514.70 L177.47 514.12 L178.05 512.98 L178.05 511.83" fill="none" stroke="#000" stroke-width="1.60" stroke-linecap="round" stroke-linejoin="round"/>
<path d="M250.60 502.63 L248.88 503.20 L247.73 504.93 L247.15 507.80 L247.15 509.53 L247.73 512.40 L248.88 514.12 L250.60 514.70 L251.75 514.70 L253.48 514.12 L254.62 512.40 L255.20 509.53 L255.20 507.80 L254.62 504.93 L253.48 503.20 L251.75 502.63 L250.60 502.63 M250.60 502.63 L249.45 503.20 L248.88 503.78 L248.30 504.93 L247.73 507.80 L247.73 509.53 L248.30 512.40 L248.88 513.55 L249.45 514.12 L250.60 514.70 M251.75 514.70 L252.90 514.12 L253.48 513.55 L254.05 512.40 L254.62 509.53 L254.62 507.80 L254.05 504.93 L253.48 503.78 L252.90 503.20 L251.75 502.63 M259.80 513.55 L259.23 514.12 L259.80 514.70 L260.38 514.12 L259.80 513.55 M269.57 503.78 L269.57 514.70 M270.15 502.63 L270.15 514.70 M270.15 502.63 L263.82 511.25 L273.03 511.25 M267.85 514.70 L271.88 514.70" fill="none" stroke="#000" stroke-width="1.60" stroke-linecap="round" stroke-linejoin="round"/>
<path d="M345.00 502.63 L343.28 503.20 L342.13 504.93 L341.55 507.80 L341.55 509.53 L342.13 512.40 L343.28 514.12 L345.00 514.70 L346.15 514.70 L347.88 514.12 L349.03 512.40 L349.60 509.53 L349.60 507.80 L349.03 504.93 L347.88 503.20 L346.15 502.63 L345.00 502.63 M345.00 502.63 L343.85 503.20 L343.28 503.78 L342.70 504.93 L342.13 507.80 L342.13 509.53 L342.70 512.40 L343.28 513.55 L343.85 514.12 L345.00 514.70 M346.15 514.70 L347.30 514.12 L347.88 513.55 L348.45 512.40 L349.03 509.53 L349.03 507.80 L348.45 504.93 L347.88 503.78 L347.30 503.20 L346.15 502.63 M354.20 513.55 L353.63 514.12 L354.20 514.70 L354.78 514.12 L354.20 513.55 M365.70 504.35 L365.13 504.93 L365.70 505.50 L366.28 504.93 L366.28 504.35 L365.70 503.20 L364.55 502.63 L362.83 502.63 L361.10 503.20 L359.95 504.35 L359.38 505.50 L358.80 507.80 L358.80 511.25 L359.38 512.98 L360.53 514.12 L362.25 514.70 L363.40 514.70 L365.13 514.12 L366.28 512.98 L366.85 511.25 L366.85 510.68 L366.28 508.95 L365.13 507.80 L363.40 507.23 L362.83 507.23 L361.10 507.80 L359.95 508.95 L359.38 510.68 M362.83 502.63 L361.68 503.20 L360.53 504.35 L359.95 505.50 L359.38 507.80 L359.38 511.25 L359.95 512.98 L361.10 514.12 L362.25 514.70 M363.40 514.70 L364.55 514.12 L365.70 512.98 L366.28 511.25 L366.28 510.68 L365.70 508.95 L364.55 507.80 L363.40 507.23" fill="none" stroke="#000" stroke-width="1.60" stroke-linecap="round" stroke-linejoin="round"/>
<path d="M439.40 502.63 L437.68 503.20 L436.53 504.93 L435.95 507.80 L435.95 509.53 L436.53 512.40 L437.68 514.12 L439.40 514.70 L440.55 514.70 L442.28 514.12 L443.43 512.40 L444.00 509.53 L444.00 507.80 L443.43 504.93 L442.28 503.20 L440.55 502.63 L439.40 502.63 M439.40 502.63 L438.25 503.20 L437.68 503.78 L437.10 504.93 L436.53 507.80 L436.53 509.53 L437.10 512.40 L437.68 513.55 L438.25 514.12 L439.40 514.70 M440.55 514.70 L441.70 514.12 L442.28 513.55 L442.85 512.40 L443.43 509.53 L443.43 507.80 L442.85 504.93 L442.28 503.78 L441.70 503.20 L440.55 502.63 M448.60 513.55 L448.03 514.12 L448.60 514.70 L449.18 514.12 L448.60 513.55 M456.08 502.63 L454.35 503.20 L453.78 504.35 L453.78 506.08 L454.35 507.23 L456.08 507.80 L458.38 507.80 L460.10 507.23 L460.68 506.08 L460.68 504.35 L460.10 503.20 L458.38 502.63 L456.08 502.63 M456.08 502.63 L454.93 503.20 L454.35 504.35 L454.35 506.08 L454.93 507.23 L456.08 507.80 M458.38 507.80 L459.53 507.23 L460.10 506.08 L460.10 504.35 L459.53 503.20 L458.38 502.63 M456.08 507.80 L454.35 508.38 L453.78 508.95 L453.20 510.10 L453.20 512.40 L453.78 513.55 L454.35 514.12 L456.08 514.70 L458.38 514.70 L460.10 514.12 L460.68 513.55 L461.25 512.40 L461.25 510.10 L460.68 508.95 L460.10 508.38 L458.38 507.80 M456.08 507.80 L454.93 508.38 L454.35 508.95 L453.78 510.10 L453.78 512.40 L454.35 513.55 L454.93 514.12 L456.08 514.70 M458.38 514.70 L459.53 514.12 L460.10 513.55 L460.68 512.40 L460.68 510.10 L460.10 508.95 L459.53 508.38 L458.38 507.80" fill="none" stroke="#000" stroke-width="1.60" stroke-linecap="round" stroke-linejoin="round"/>
<path d="M540.70 504.93 L541.85 504.35 L543.58 502.63 L543.58 514.70 M543.00 503.20 L543.00 514.70 M540.70 514.70 L545.88 514.70" fill="none" stroke="#000" stroke-width="1.60" stroke-linecap="round" stroke-linejoin="round"/>
<rect x="247.60" y="383.00" width="5.40" height="5.40" fill="#000"/>
<polygon points="250.20,406.00 253.32,411.40 247.08,411.40" fill="#00ff00"/>
<polygon points="250.40,436.50 253.52,431.10 247.28,431.10" fill="#ff0000"/>
<circle cx="250.30" cy="456.60" r="3.30" fill="#0000ff"/>
<path d="M265.75 379.73 L261.73 391.80 M265.75 379.73 L269.77 391.80 M265.75 381.45 L269.20 391.80 M262.88 388.35 L268.05 388.35 M260.57 391.80 L264.02 391.80 M267.48 391.80 L270.93 391.80 M281.27 381.45 L281.85 383.18 L281.85 379.73 L281.27 381.45 L280.12 380.30 L278.40 379.73 L277.25 379.73 L275.52 380.30 L274.38 381.45 L273.80 382.60 L273.23 384.32 L273.23 387.20 L273.80 388.93 L274.38 390.07 L275.52 391.23 L277.25 391.80 L278.40 391.80 L280.12 391.23 L281.27 390.07 L281.85 388.93 M277.25 379.73 L276.10 380.30 L274.95 381.45 L274.38 382.60 L273.80 384.32 L273.80 387.20 L274.38 388.93 L274.95 390.07 L276.10 391.23 L277.25 391.80 M286.45 379.73 L286.45 391.80 M287.02 379.73 L287.02 391.80 M290.48 383.18 L290.48 387.78 M284.73 379.73 L293.93 379.73 L293.93 383.18 L293.35 379.73 M287.02 385.48 L290.48 385.48 M284.73 391.80 L288.75 391.80 M297.95 379.73 L297.95 391.80 M298.52 379.73 L298.52 391.80 M296.23 379.73 L301.98 379.73 L303.70 380.30 L304.85 381.45 L305.43 382.60 L306.00 384.32 L306.00 387.20 L305.43 388.93 L304.85 390.07 L303.70 391.23 L301.98 391.80 L296.23 391.80 M301.98 379.73 L303.12 380.30 L304.27 381.45 L304.85 382.60 L305.43 384.32 L305.43 387.20 L304.85 388.93 L304.27 390.07 L303.12 391.23 L301.98 391.80 M312.90 379.73 L312.90 391.80 M313.48 379.73 L313.48 391.80 M309.45 379.73 L308.88 383.18 L308.88 379.73 L317.50 379.73 L317.50 383.18 L316.93 379.73 M311.18 391.80 L315.20 391.80 M320.95 386.62 L331.30 386.62 M336.48 379.73 L336.48 391.80 M337.05 379.73 L337.05 391.80 M334.75 379.73 L341.65 379.73 L343.38 380.30 L343.95 380.88 L344.52 382.03 L344.52 383.18 L343.95 384.32 L343.38 384.90 L341.65 385.48 L337.05 385.48 M341.65 379.73 L342.80 380.30 L343.38 380.88 L343.95 382.03 L343.95 383.18 L343.38 384.32 L342.80 384.90 L341.65 385.48 M334.75 391.80 L338.77 391.80 M339.93 385.48 L341.07 386.05 L341.65 386.62 L343.38 390.65 L343.95 391.23 L344.52 391.23 L345.10 390.65 M341.07 386.05 L341.65 387.20 L342.80 391.23 L343.38 391.80 L344.52 391.80 L345.10 390.65 L345.10 390.07 M349.12 379.73 L349.12 391.80 M349.70 379.73 L349.70 391.80 M347.40 379.73 L354.30 379.73 L356.02 380.30 L356.60 380.88 L357.18 382.03 L357.18 383.75 L356.60 384.90 L356.02 385.48 L354.30 386.05 L349.70 386.05 M354.30 379.73 L355.45 380.30 L356.02 380.88 L356.60 382.03 L356.60 383.75 L356.02 384.90 L355.45 385.48 L354.30 386.05 M347.40 391.80 L351.43 391.80 M364.65 379.73 L360.62 391.80 M364.65 379.73 L368.68 391.80 M364.65 381.45 L368.10 391.80 M361.77 388.35 L366.95 388.35 M359.48 391.80 L362.93 391.80 M366.38 391.80 L369.82 391.80" fill="none" stroke="#000" stroke-width="1.60" stroke-linecap="round" stroke-linejoin="round"/>
<path d="M261.73 407.35 L265.18 415.40 M262.30 407.35 L265.18 414.25 M268.62 407.35 L265.18 415.40 M260.57 407.35 L264.02 407.35 M266.32 407.35 L269.77 407.35 M278.98 403.32 L278.98 415.40 M279.55 403.32 L279.55 415.40 M278.98 409.07 L277.82 407.92 L276.68 407.35 L275.52 407.35 L273.80 407.92 L272.65 409.07 L272.07 410.80 L272.07 411.95 L272.65 413.67 L273.80 414.82 L275.52 415.40 L276.68 415.40 L277.82 414.82 L278.98 413.67 M275.52 407.35 L274.38 407.92 L273.23 409.07 L272.65 410.80 L272.65 411.95 L273.23 413.67 L274.38 414.82 L275.52 415.40 M277.25 403.32 L279.55 403.32 M278.98 415.40 L281.27 415.40 M284.73 403.32 L287.02 415.40 M285.30 403.32 L287.02 412.52 M289.32 403.32 L287.02 415.40 M289.32 403.32 L291.62 415.40 M289.90 403.32 L291.62 412.52 M293.93 403.32 L291.62 415.40 M283.00 403.32 L287.02 403.32 M292.20 403.32 L295.65 403.32 M298.52 410.22 L308.88 410.22 M314.05 403.32 L314.05 415.40 M314.62 403.32 L314.62 415.40 M312.32 403.32 L318.07 403.32 L319.80 403.90 L320.95 405.05 L321.52 406.20 L322.10 407.92 L322.10 410.80 L321.52 412.52 L320.95 413.67 L319.80 414.82 L318.07 415.40 L312.32 415.40 M318.07 403.32 L319.23 403.90 L320.38 405.05 L320.95 406.20 L321.52 407.92 L321.52 410.80 L320.95 412.52 L320.38 413.67 L319.23 414.82 L318.07 415.40 M326.70 403.32 L326.70 415.40 M327.27 403.32 L327.27 415.40 M330.73 406.77 L330.73 411.38 M324.98 403.32 L334.18 403.32 L334.18 406.77 L333.60 403.32 M327.27 409.07 L330.73 409.07 M324.98 415.40 L329.00 415.40 M337.62 405.62 L338.20 406.20 L337.62 406.77 L337.05 406.20 L337.05 405.62 L337.62 404.47 L338.20 403.90 L339.93 403.32 L342.23 403.32 L343.95 403.90 L344.52 404.47 L345.10 405.62 L345.10 406.77 L344.52 407.92 L342.80 409.07 L339.93 410.22 L338.77 410.80 L337.62 411.95 L337.05 413.67 L337.05 415.40 M342.23 403.32 L343.38 403.90 L343.95 404.47 L344.52 405.62 L344.52 406.77 L343.95 407.92 L342.23 409.07 L339.93 410.22 M337.05 414.25 L337.62 413.67 L338.77 413.67 L341.65 414.82 L343.38 414.82 L344.52 414.25 L345.10 413.67 M338.77 413.67 L341.65 415.40 L343.95 415.40 L344.52 414.82 L345.10 413.67 L345.10 412.52" fill="none" stroke="#00ff00" stroke-width="1.60" stroke-linecap="round" stroke-linejoin="round"/>
<path d="M262.88 426.93 L262.88 439.00 M263.45 426.93 L266.90 437.27 M262.88 426.93 L266.90 439.00 M270.93 426.93 L266.90 439.00 M270.93 426.93 L270.93 439.00 M271.50 426.93 L271.50 439.00 M261.15 426.93 L263.45 426.93 M270.93 426.93 L273.23 426.93 M261.15 439.00 L264.60 439.00 M269.20 439.00 L273.23 439.00 M284.15 428.65 L284.73 430.38 L284.73 426.93 L284.15 428.65 L283.00 427.50 L281.27 426.93 L280.12 426.93 L278.40 427.50 L277.25 428.65 L276.68 429.80 L276.10 431.52 L276.10 434.40 L276.68 436.12 L277.25 437.27 L278.40 438.43 L280.12 439.00 L281.27 439.00 L283.00 438.43 L284.15 437.27 M280.12 426.93 L278.98 427.50 L277.82 428.65 L277.25 429.80 L276.68 431.52 L276.68 434.40 L277.25 436.12 L277.82 437.27 L278.98 438.43 L280.12 439.00 M284.15 434.40 L284.15 439.00 M284.73 434.40 L284.73 439.00 M282.43 434.40 L286.45 434.40 M297.38 428.65 L297.95 430.38 L297.95 426.93 L297.38 428.65 L296.23 427.50 L294.50 426.93 L293.35 426.93 L291.62 427.50 L290.48 428.65 L289.90 429.80 L289.32 431.52 L289.32 434.40 L289.90 436.12 L290.48 437.27 L291.62 438.43 L293.35 439.00 L294.50 439.00 L296.23 438.43 L297.38 437.27 M293.35 426.93 L292.20 427.50 L291.05 428.65 L290.48 429.80 L289.90 431.52 L289.90 434.40 L290.48 436.12 L291.05 437.27 L292.20 438.43 L293.35 439.00 M297.38 434.40 L297.38 439.00 M297.95 434.40 L297.95 439.00 M295.65 434.40 L299.68 434.40 M306.57 426.93 L302.55 439.00 M306.57 426.93 L310.60 439.00 M306.57 428.65 L310.02 439.00 M303.70 435.55 L308.88 435.55 M301.40 439.00 L304.85 439.00 M308.30 439.00 L311.75 439.00 M314.62 433.82 L324.98 433.82 M330.15 426.93 L330.15 439.00 M330.73 426.93 L334.18 437.27 M330.15 426.93 L334.18 439.00 M338.20 426.93 L334.18 439.00 M338.20 426.93 L338.20 439.00 M338.77 426.93 L338.77 439.00 M328.43 426.93 L330.73 426.93 M338.20 426.93 L340.50 426.93 M328.43 439.00 L331.88 439.00 M336.48 439.00 L340.50 439.00 M350.85 428.65 L351.43 426.93 L351.43 430.38 L350.85 428.65 L349.70 427.50 L347.98 426.93 L346.25 426.93 L344.52 427.50 L343.38 428.65 L343.38 429.80 L343.95 430.95 L344.52 431.52 L345.68 432.10 L349.12 433.25 L350.27 433.82 L351.43 434.98 M343.38 429.80 L344.52 430.95 L345.68 431.52 L349.12 432.68 L350.27 433.25 L350.85 433.82 L351.43 434.98 L351.43 437.27 L350.27 438.43 L348.55 439.00 L346.82 439.00 L345.10 438.43 L343.95 437.27 L343.38 435.55 L343.38 439.00 L343.95 437.27 M355.45 429.23 L356.02 429.80 L355.45 430.38 L354.88 429.80 L354.88 429.23 L355.45 428.07 L356.02 427.50 L357.75 426.93 L360.05 426.93 L361.77 427.50 L362.35 428.07 L362.93 429.23 L362.93 430.38 L362.35 431.52 L360.62 432.68 L357.75 433.82 L356.60 434.40 L355.45 435.55 L354.88 437.27 L354.88 439.00 M360.05 426.93 L361.20 427.50 L361.77 428.07 L362.35 429.23 L362.35 430.38 L361.77 431.52 L360.05 432.68 L357.75 433.82 M354.88 437.85 L355.45 437.27 L356.60 437.27 L359.48 438.43 L361.20 438.43 L362.35 437.85 L362.93 437.27 M356.60 437.27 L359.48 439.00 L361.77 439.00 L362.35 438.43 L362.93 437.27 L362.93 436.12" fill="none" stroke="#ff0000" stroke-width="1.60" stroke-linecap="round" stroke-linejoin="round"/>
<path d="M262.88 450.53 L262.88 462.60 M263.45 450.53 L263.45 462.60 M261.15 450.53 L266.90 450.53 L268.62 451.10 L269.77 452.25 L270.35 453.40 L270.93 455.12 L270.93 458.00 L270.35 459.73 L269.77 460.88 L268.62 462.03 L266.90 462.60 L261.15 462.60 M266.90 450.53 L268.05 451.10 L269.20 452.25 L269.77 453.40 L270.35 455.12 L270.35 458.00 L269.77 459.73 L269.20 460.88 L268.05 462.03 L266.90 462.60 M275.52 450.53 L275.52 462.60 M276.10 450.53 L276.10 462.60 M279.55 453.98 L279.55 458.58 M273.80 450.53 L283.00 450.53 L283.00 453.98 L282.43 450.53 M276.10 456.28 L279.55 456.28 M273.80 462.60 L277.82 462.60 M289.32 450.53 L289.32 462.60 M289.90 450.53 L289.90 462.60 M285.88 450.53 L285.30 453.98 L285.30 450.53 L293.93 450.53 L293.93 453.98 L293.35 450.53 M287.60 462.60 L291.62 462.60 M297.38 457.43 L307.73 457.43 M312.90 450.53 L312.90 462.60 M313.48 450.53 L313.48 462.60 M311.18 450.53 L316.93 450.53 L318.65 451.10 L319.80 452.25 L320.38 453.40 L320.95 455.12 L320.95 458.00 L320.38 459.73 L319.80 460.88 L318.65 462.03 L316.93 462.60 L311.18 462.60 M316.93 450.53 L318.07 451.10 L319.23 452.25 L319.80 453.40 L320.38 455.12 L320.38 458.00 L319.80 459.73 L319.23 460.88 L318.07 462.03 L316.93 462.60 M324.98 452.83 L325.55 453.40 L324.98 453.98 L324.40 453.40 L324.40 452.83 L324.98 451.68 L325.55 451.10 L327.27 450.53 L329.57 450.53 L331.30 451.10 L331.88 451.68 L332.45 452.83 L332.45 453.98 L331.88 455.12 L330.15 456.28 L327.27 457.43 L326.12 458.00 L324.98 459.15 L324.40 460.88 L324.40 462.60 M329.57 450.53 L330.73 451.10 L331.30 451.68 L331.88 452.83 L331.88 453.98 L331.30 455.12 L329.57 456.28 L327.27 457.43 M324.40 461.45 L324.98 460.88 L326.12 460.88 L329.00 462.03 L330.73 462.03 L331.88 461.45 L332.45 460.88 M326.12 460.88 L329.00 462.60 L331.30 462.60 L331.88 462.03 L332.45 460.88 L332.45 459.73" fill="none" stroke="#0000ff" stroke-width="1.60" stroke-linecap="round" stroke-linejoin="round"/>
<path d="M274.59 531.84 L277.83 539.40 M275.13 531.84 L277.83 538.32 M281.07 531.84 L277.83 539.40 L276.75 541.56 L275.67 542.64 L274.59 543.18 L274.05 543.18 L273.51 542.64 L274.05 542.10 L274.59 542.64 M273.51 531.84 L276.75 531.84 M278.91 531.84 L282.15 531.84" fill="none" stroke="#000" stroke-width="1.60" stroke-linecap="round" stroke-linejoin="round"/>
<path d="M286.91 540.27 L285.87 540.62 L285.18 541.31 L284.84 542.34 L284.84 543.03 L285.18 544.07 L285.87 544.75 L286.91 545.10 L287.60 545.10 L288.63 544.75 L289.32 544.07 L289.67 543.03 L289.67 542.34 L289.32 541.31 L288.63 540.62 L287.60 540.27 L286.91 540.27 M286.91 540.27 L286.22 540.62 L285.53 541.31 L285.18 542.34 L285.18 543.03 L285.53 544.07 L286.22 544.75 L286.91 545.10 M287.60 545.10 L288.29 544.75 L288.98 544.07 L289.32 543.03 L289.32 542.34 L288.98 541.31 L288.29 540.62 L287.60 540.27" fill="none" stroke="#000" stroke-width="1.60" stroke-linecap="round" stroke-linejoin="round"/>
<path d="M302.23 526.17 L292.45 543.42 M310.28 525.02 L309.12 526.17 L307.98 527.90 L306.82 530.20 L306.25 533.07 L306.25 535.38 L306.82 538.25 L307.98 540.55 L309.12 542.27 L310.28 543.42 M309.12 526.17 L307.98 528.48 L307.40 530.20 L306.82 533.07 L306.82 535.38 L307.40 538.25 L307.98 539.98 L309.12 542.27 M314.30 529.62 L314.88 530.20 L314.30 530.77 L313.73 530.20 L313.73 529.62 L314.30 528.48 L314.88 527.90 L316.60 527.32 L318.90 527.32 L320.62 527.90 L321.20 529.05 L321.20 530.77 L320.62 531.92 L318.90 532.50 L317.18 532.50 M318.90 527.32 L320.05 527.90 L320.62 529.05 L320.62 530.77 L320.05 531.92 L318.90 532.50 M318.90 532.50 L320.05 533.07 L321.20 534.23 L321.78 535.38 L321.78 537.10 L321.20 538.25 L320.62 538.82 L318.90 539.40 L316.60 539.40 L314.88 538.82 L314.30 538.25 L313.73 537.10 L313.73 536.52 L314.30 535.95 L314.88 536.52 L314.30 537.10 M320.62 533.65 L321.20 535.38 L321.20 537.10 L320.62 538.25 L320.05 538.82 L318.90 539.40 M326.38 532.50 L326.38 533.07 L325.80 533.07 L325.80 532.50 L326.38 531.92 L327.52 531.35 L329.82 531.35 L330.98 531.92 L331.55 532.50 L332.12 533.65 L332.12 537.67 L332.70 538.82 L333.27 539.40 M331.55 532.50 L331.55 537.67 L332.12 538.82 L333.27 539.40 L333.85 539.40 M331.55 533.65 L330.98 534.23 L327.52 534.80 L325.80 535.38 L325.23 536.52 L325.23 537.67 L325.80 538.82 L327.52 539.40 L329.25 539.40 L330.40 538.82 L331.55 537.67 M327.52 534.80 L326.38 535.38 L325.80 536.52 L325.80 537.67 L326.38 538.82 L327.52 539.40 M336.73 525.02 L337.88 526.17 L339.02 527.90 L340.18 530.20 L340.75 533.07 L340.75 535.38 L340.18 538.25 L339.02 540.55 L337.88 542.27 L336.73 543.42 M337.88 526.17 L339.02 528.48 L339.60 530.20 L340.18 533.07 L340.18 535.38 L339.60 538.25 L339.02 539.98 L337.88 542.27" fill="none" stroke="#000" stroke-width="1.60" stroke-linecap="round" stroke-linejoin="round"/>
<path d="M5.75 -12.07 L1.15 0.00 M5.75 -12.07 L10.35 0.00 M5.75 -10.35 L9.77 0.00 M1.72 -0.57 L9.77 -0.57 M1.15 0.00 L10.35 0.00" fill="none" stroke="#000" stroke-width="1.60" stroke-linecap="round" stroke-linejoin="round" transform="translate(17.20 297.90) rotate(-90)"/>
<path d="M2.88 -12.07 L2.88 0.00 M3.45 -12.07 L3.45 0.00 M3.45 -6.32 L4.60 -7.47 L6.32 -8.05 L7.47 -8.05 L9.20 -7.47 L9.77 -6.32 L9.77 0.00 M7.47 -8.05 L8.62 -7.47 L9.20 -6.32 L9.20 0.00 M1.15 -12.07 L3.45 -12.07 M1.15 0.00 L5.17 0.00 M7.47 0.00 L11.50 0.00" fill="none" stroke="#000" stroke-width="1.60" stroke-linecap="round" stroke-linejoin="round" transform="translate(17.20 286.40) rotate(-90)"/>
<path d="M1.31 -2.62 L5.24 -2.62 L5.24 -3.28 L4.92 -3.93 L4.59 -4.26 L3.93 -4.59 L2.95 -4.59 L1.97 -4.26 L1.31 -3.61 L0.98 -2.62 L0.98 -1.97 L1.31 -0.98 L1.97 -0.33 L2.95 0.00 L3.61 0.00 L4.59 -0.33 L5.24 -0.98 M4.92 -2.62 L4.92 -3.61 L4.59 -4.26 M2.95 -4.59 L2.29 -4.26 L1.64 -3.61 L1.31 -2.62 L1.31 -1.97 L1.64 -0.98 L2.29 -0.33 L2.95 0.00 M11.14 -4.59 L11.14 2.29 M11.47 -4.59 L11.47 2.29 M11.14 -3.61 L10.49 -4.26 L9.83 -4.59 L9.18 -4.59 L8.19 -4.26 L7.54 -3.61 L7.21 -2.62 L7.21 -1.97 L7.54 -0.98 L8.19 -0.33 L9.18 0.00 L9.83 0.00 L10.49 -0.33 L11.14 -0.98 M9.18 -4.59 L8.52 -4.26 L7.87 -3.61 L7.54 -2.62 L7.54 -1.97 L7.87 -0.98 L8.52 -0.33 L9.18 0.00 M10.16 2.29 L12.45 2.29" fill="none" stroke="#000" stroke-width="1.60" stroke-linecap="round" stroke-linejoin="round" transform="translate(11.20 273.45) rotate(-90)"/>
<path d="M6.32 -14.37 L5.17 -13.22 L4.02 -11.50 L2.88 -9.20 L2.30 -6.32 L2.30 -4.02 L2.88 -1.15 L4.02 1.15 L5.17 2.88 L6.32 4.02 M5.17 -13.22 L4.02 -10.92 L3.45 -9.20 L2.88 -6.32 L2.88 -4.02 L3.45 -1.15 L4.02 0.57 L5.17 2.88" fill="none" stroke="#000" stroke-width="1.60" stroke-linecap="round" stroke-linejoin="round" transform="translate(17.20 241.67) rotate(-90)"/>
<path d="M5.75 -12.07 L1.72 0.00 M5.75 -12.07 L9.77 0.00 M5.75 -10.35 L9.20 0.00 M2.88 -3.45 L8.05 -3.45 M0.57 0.00 L4.02 0.00 M7.47 0.00 L10.92 0.00" fill="none" stroke="#000" stroke-width="1.60" stroke-linecap="round" stroke-linejoin="round" transform="translate(17.20 233.62) rotate(-90)"/>
<polygon points="0.5,227.87 2.4,225.87 4.3,227.87 2.4,229.87" fill="none" stroke="#000" stroke-width="1.05" stroke-linejoin="round"/>
<path d="M1.72 -14.37 L2.88 -13.22 L4.02 -11.50 L5.17 -9.20 L5.75 -6.32 L5.75 -4.02 L5.17 -1.15 L4.02 1.15 L2.88 2.88 L1.72 4.02 M2.88 -13.22 L4.02 -10.92 L4.60 -9.20 L5.17 -6.32 L5.17 -4.02 L4.60 -1.15 L4.02 0.57 L2.88 2.88" fill="none" stroke="#000" stroke-width="1.60" stroke-linecap="round" stroke-linejoin="round" transform="translate(17.20 222.12) rotate(-90)"/>
</svg>
</body></html>
